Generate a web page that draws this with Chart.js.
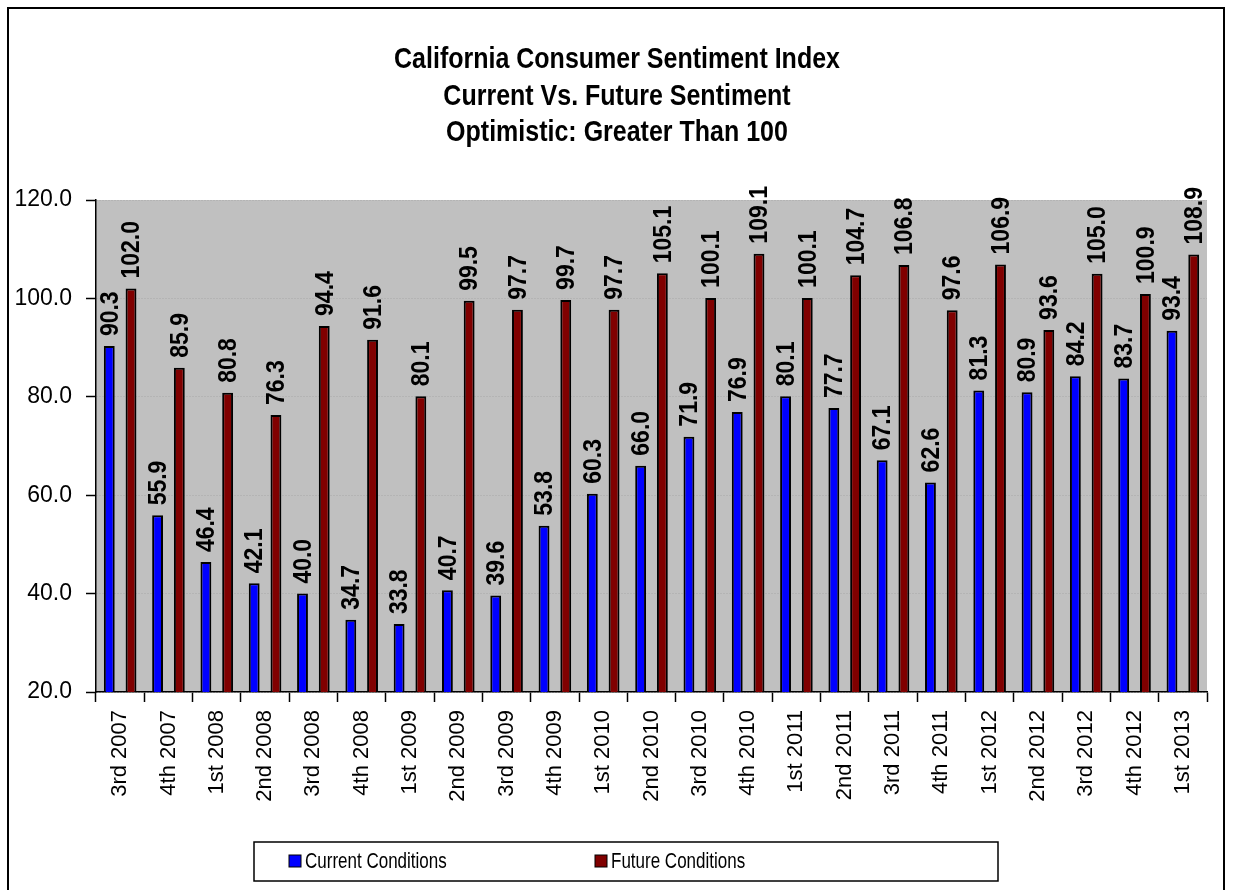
<!DOCTYPE html>
<html lang="en">
<head>
  <meta charset="UTF-8">
  <title>California Consumer Sentiment Index</title>
  <script src="https://cdn.jsdelivr.net/npm/chart.js"></script>
  <style>
    body { margin: 0; background: white; overflow: hidden; }
    .frame {
      position: absolute; left: 7px; top: 7px;
      width: 1218px; height: 900px;
      border: 2px solid black;
      box-sizing: border-box;
    }
    .chart-wrap { position: absolute; left: 0; top: 0; width: 1233px; height: 890px; }
  </style>
</head>
<body>
  <div class="frame"></div>
  <div class="chart-wrap">
    <canvas id="sentimentChart"></canvas>
  </div>

  <script>
    const quarters = ["3rd 2007", "4th 2007", "1st 2008", "2nd 2008", "3rd 2008", "4th 2008",
      "1st 2009", "2nd 2009", "3rd 2009", "4th 2009", "1st 2010", "2nd 2010", "3rd 2010",
      "4th 2010", "1st 2011", "2nd 2011", "3rd 2011", "4th 2011", "1st 2012", "2nd 2012",
      "3rd 2012", "4th 2012", "1st 2013"];

    const currentConditions = [90.3, 55.9, 46.4, 42.1, 40.0, 34.7, 33.8, 40.7, 39.6, 53.8, 60.3,
      66.0, 71.9, 76.9, 80.1, 77.7, 67.1, 62.6, 81.3, 80.9, 84.2, 83.7, 93.4];

    const futureConditions = [102.0, 85.9, 80.8, 76.3, 94.4, 91.6, 80.1, 99.5, 97.7, 99.7, 97.7,
      105.1, 100.1, 109.1, 100.1, 104.7, 106.8, 97.6, 106.9, 93.6, 105.0, 100.9, 108.9];

    const titleLines = ["California Consumer Sentiment Index", "Current Vs. Future Sentiment",
      "Optimistic: Greater Than 100"];

    const yMin = 20, yMax = 120, yStep = 20;

    const FONT = '"Liberation Sans", Arial, sans-serif';

    // draws text a little taller than wide, like the original rendering
    function tallText(ctx, text, x, y, stretch) {
      ctx.save();
      ctx.translate(x, y);
      ctx.scale(1, stretch);
      ctx.fillText(text, 0, 0);
      ctx.restore();
    }

    // gray plot background
    const plotBackground = {
      id: 'plotBackground',
      beforeDraw(chart) {
        const { ctx, chartArea: a } = chart;
        ctx.save();
        ctx.fillStyle = '#c0c0c0';
        ctx.fillRect(a.left, a.top, a.right - a.left, a.bottom - a.top);
        ctx.restore();
      }
    };

    // title, value labels and the boxed legend
    const extras = {
      id: 'extras',
      afterDatasetsDraw(chart) {
        const ctx = chart.ctx;
        ctx.save();
        ctx.fillStyle = 'black';
        ctx.font = 'bold 23px ' + FONT;
        ctx.textAlign = 'left';
        ctx.textBaseline = 'middle';
        chart.data.datasets.forEach((ds, i) => {
          chart.getDatasetMeta(i).data.forEach((bar, j) => {
            ctx.save();
            ctx.translate(bar.x, bar.y - 10);
            ctx.rotate(-Math.PI / 2);
            tallText(ctx, ds.data[j].toFixed(1), 0, 1, 1.15);
            ctx.restore();
          });
        });
        ctx.restore();
      },
      afterDraw(chart) {
        const ctx = chart.ctx;
        ctx.save();
        // title
        ctx.fillStyle = 'black';
        ctx.font = 'bold 25px ' + FONT;
        ctx.textAlign = 'center';
        ctx.textBaseline = 'middle';
        titleLines.forEach((t, i) => tallText(ctx, t, 617, 60 + i * 36.5, 1.2));

        // legend
        ctx.lineWidth = 1.5;
        ctx.strokeStyle = 'black';
        ctx.strokeRect(254, 842, 744, 39);
        ctx.font = '17px ' + FONT;
        ctx.textAlign = 'left';
        const itemX = [289, 595];
        chart.data.datasets.forEach((ds, i) => {
          ctx.fillStyle = ds.backgroundColor;
          ctx.fillRect(itemX[i], 855, 12, 12);
          ctx.lineWidth = 1;
          ctx.strokeRect(itemX[i], 855, 12, 12);
          ctx.fillStyle = 'black';
          tallText(ctx, ds.label, itemX[i] + 16, 862, 1.25);
        });
        ctx.restore();
      }
    };

    const ctx = document.getElementById('sentimentChart').getContext('2d');
    new Chart(ctx, {
      type: 'bar',
      data: {
        labels: quarters,
        datasets: [{
          label: 'Current Conditions',
          data: currentConditions,
          backgroundColor: '#0000ff',
          borderColor: 'black',
          borderWidth: 2,
          categoryPercentage: 0.9,
          barPercentage: 0.5
        }, {
          label: 'Future Conditions',
          data: futureConditions,
          backgroundColor: '#800000',
          borderColor: 'black',
          borderWidth: 2,
          categoryPercentage: 0.9,
          barPercentage: 0.5
        }]
      },
      plugins: [plotBackground, extras],
      options: {
        responsive: true,
        maintainAspectRatio: false,
        animation: false,
        layout: { padding: { left: 0, right: 26, top: 200, bottom: 0 } },
        plugins: {
          legend: { display: false },
          title: { display: false },
          tooltip: { enabled: false }
        },
        scales: {
          x: {
            afterFit(scale) { scale.height = 198; },
            grid: {
              drawOnChartArea: false,
              tickColor: 'black',
              tickLength: 10,
              tickWidth: 1.5
            },
            border: { color: 'black', width: 1.5 },
            ticks: {
              autoSkip: false,
              minRotation: 90,
              maxRotation: 90,
              padding: 8,
              color: 'black',
              font: { family: FONT, size: 22 }
            }
          },
          y: {
            min: yMin,
            max: yMax,
            afterFit(scale) { scale.width = 96; },
            grid: {
              color: '#a9a9a9',
              lineWidth: 1,
              tickColor: 'black',
              tickLength: 10,
              tickWidth: 1.5,
              tickBorderDash: []
            },
            border: { color: 'black', width: 1.5, dash: [1, 2] },
            ticks: {
              stepSize: yStep,
              padding: 14,
              color: 'black',
              font: { family: FONT, size: 23 },
              callback: v => v.toFixed(1)
            }
          }
        }
      }
    });
  </script>
</body>
</html>
